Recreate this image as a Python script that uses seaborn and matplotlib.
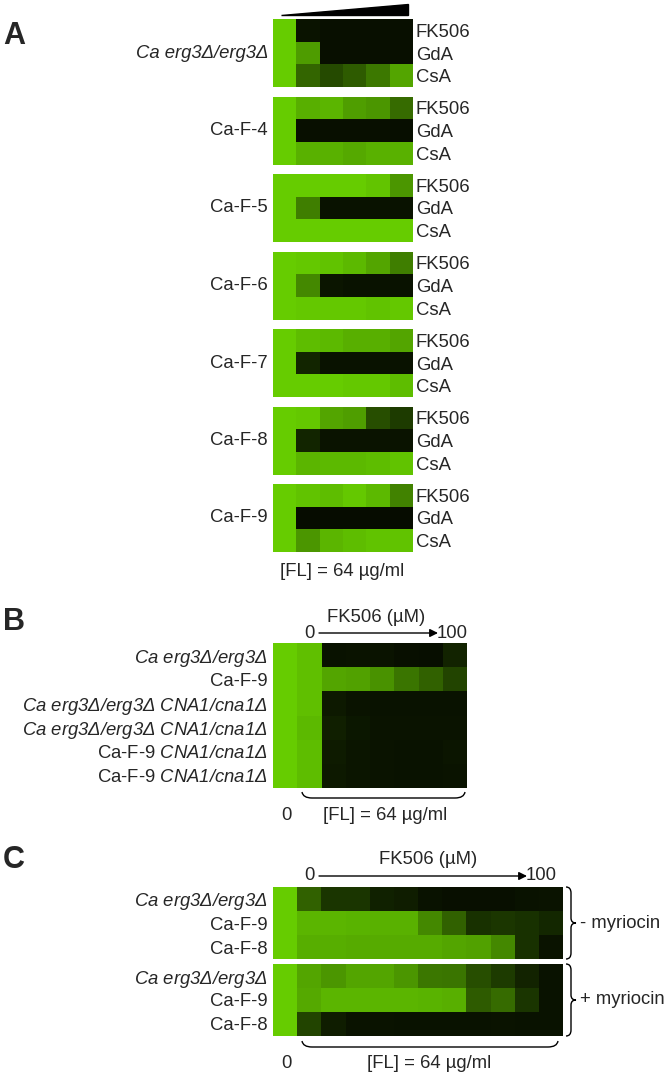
import numpy as np
import pandas as pd
import matplotlib
matplotlib.use("Agg")
import matplotlib.pyplot as plt
import seaborn as sns
from matplotlib.colors import LinearSegmentedColormap
from matplotlib.patches import Polygon, PathPatch
from matplotlib.path import Path

# -----------------------
# Data (relative growth, 0 = no growth, 1 = full growth)
# -----------------------

a_drugs = ["FK506", "GdA", "CsA"]
a_strains = ["Ca erg3Δ/erg3Δ", "Ca-F-4", "Ca-F-5", "Ca-F-6",
             "Ca-F-7", "Ca-F-8", "Ca-F-9"]

a_erg3 = [[1, 0.05, 0.03, 0.03, 0.03, 0.03],
          [1, 0.75, 0.03, 0.03, 0.03, 0.03],
          [1, 0.47, 0.33, 0.42, 0.57, 0.80]]
a_f4 = [[1, 0.85, 0.88, 0.76, 0.72, 0.50],
        [1, 0.03, 0.03, 0.03, 0.03, 0.02],
        [1, 0.86, 0.86, 0.82, 0.86, 0.86]]
a_f5 = [[1, 1.00, 1.00, 1.00, 0.96, 0.72],
        [1, 0.60, 0.04, 0.04, 0.04, 0.04],
        [1, 1.00, 1.00, 1.00, 1.00, 1.00]]
a_f6 = [[1, 0.98, 0.95, 0.90, 0.80, 0.60],
        [1, 0.65, 0.06, 0.04, 0.04, 0.04],
        [1, 0.98, 0.98, 0.98, 0.95, 0.98]]
a_f7 = [[1, 0.92, 0.90, 0.85, 0.85, 0.80],
        [1, 0.14, 0.04, 0.04, 0.04, 0.04],
        [1, 1.00, 1.00, 0.98, 0.98, 0.92]]
a_f8 = [[1, 0.98, 0.80, 0.76, 0.35, 0.25],
        [1, 0.14, 0.05, 0.05, 0.05, 0.05],
        [1, 0.88, 0.90, 0.90, 0.92, 0.95]]
a_f9 = [[1, 0.95, 0.92, 0.98, 0.90, 0.62],
        [1, 0.01, 0.01, 0.01, 0.01, 0.01],
        [1, 0.72, 0.88, 0.92, 0.95, 0.95]]
a_blocks = [a_erg3, a_f4, a_f5, a_f6, a_f7, a_f8, a_f9]

b_labels = [r"$Ca\ erg3Δ/erg3Δ$",
            "Ca-F-9",
            r"$Ca\ erg3Δ/erg3Δ\ CNA1/cna1Δ$",
            r"$Ca\ erg3Δ/erg3Δ\ CNA1/cna1Δ$",
            r"Ca-F-9 $CNA1/cna1Δ$",
            r"Ca-F-9 $CNA1/cna1Δ$"]
b_values = [[1, 0.93, 0.04, 0.05, 0.05, 0.03, 0.02, 0.13],
            [1, 0.93, 0.80, 0.78, 0.70, 0.55, 0.45, 0.30],
            [1, 0.93, 0.08, 0.05, 0.04, 0.04, 0.04, 0.04],
            [1, 0.90, 0.11, 0.07, 0.05, 0.05, 0.05, 0.05],
            [1, 0.92, 0.09, 0.06, 0.05, 0.04, 0.04, 0.06],
            [1, 0.92, 0.08, 0.06, 0.05, 0.04, 0.04, 0.05]]

c_labels = [r"$Ca\ erg3Δ/erg3Δ$", "Ca-F-9", "Ca-F-8"]
c_minus = [[1, 0.45, 0.22, 0.22, 0.12, 0.10, 0.04, 0.03, 0.03, 0.03, 0.04, 0.05],
           [1, 0.88, 0.88, 0.87, 0.86, 0.86, 0.65, 0.45, 0.20, 0.23, 0.20, 0.15],
           [1, 0.84, 0.84, 0.83, 0.83, 0.83, 0.83, 0.80, 0.78, 0.65, 0.20, 0.05]]
c_plus = [[1, 0.80, 0.72, 0.80, 0.80, 0.72, 0.56, 0.55, 0.35, 0.25, 0.13, 0.04],
          [1, 0.82, 0.88, 0.88, 0.88, 0.88, 0.87, 0.85, 0.42, 0.50, 0.22, 0.04],
          [1, 0.30, 0.10, 0.05, 0.05, 0.04, 0.04, 0.04, 0.04, 0.05, 0.04, 0.04]]
c_groups = ["- myriocin", "+ myriocin"]

# -----------------------
# Style
# -----------------------

sns.set_style("white")
plt.rcParams["font.family"] = ["Liberation Sans", "DejaVu Sans"]
# math segments are only used for the italic gene names
plt.rcParams["mathtext.fontset"] = "custom"
plt.rcParams["mathtext.rm"] = "Liberation Sans:italic"
plt.rcParams["mathtext.it"] = "Liberation Sans:italic"

FS = 13.3
W, H = 670, 1078
cmap = LinearSegmentedColormap.from_list(
    "growth", [(5 / 255, 10 / 255, 0), (102 / 255, 204 / 255, 0)]
)

fig = plt.figure(figsize=(W / 100, H / 100), dpi=100)

over = fig.add_axes([0, 0, 1, 1])
over.set_xlim(0, W)
over.set_ylim(H, 0)
over.axis("off")


def px_axes(x0, y0, x1, y1):
    return fig.add_axes([x0 / W, 1 - y1 / H, (x1 - x0) / W, (y1 - y0) / H])


def draw_heat(ax, values):
    sns.heatmap(
        pd.DataFrame(values),
        ax=ax,
        cmap=cmap,
        vmin=0,
        vmax=1,
        cbar=False,
        linewidths=0,
        xticklabels=False,
        yticklabels=False
    )
    ax.set_xlabel("")
    ax.set_ylabel("")
    ax.tick_params(length=0)


def draw_path(verts, codes):
    over.add_patch(PathPatch(Path(verts, codes), fill=False,
                             lw=1, edgecolor="black"))


# -----------------------
# Panel A
# -----------------------

over.text(3, 36, "A", fontsize=22, fontweight="bold", va="center")
over.add_patch(Polygon([(281, 14.5), (408, 14.5), (408, 4)],
                       closed=True, color="black"))

for i, block in enumerate(a_blocks):
    top = 19 + 77.5 * i
    ax = px_axes(273, top, 413, top + 68)
    draw_heat(ax, block)
    ax.yaxis.tick_right()
    ax.set_yticks(np.arange(3) + 0.5)
    ax.set_yticklabels(a_drugs, fontsize=FS, rotation=0)
    ax.tick_params(axis="y", pad=2)
    over.text(268, top + 34, a_strains[i], fontsize=FS, ha="right",
              va="center", style="italic" if i == 0 else "normal")

over.text(342, 572, "[FL] = 64 µg/ml", fontsize=FS, ha="center", va="center")

# -----------------------
# Panel B
# -----------------------

over.text(3, 622, "B", fontsize=22, fontweight="bold", va="center")
over.text(376, 617, "FK506 (µM)", fontsize=FS, ha="center", va="center")
over.text(309, 633, "0", fontsize=FS, ha="center", va="center")
over.text(437, 633, "100", fontsize=FS, ha="left", va="center")
over.annotate("", xy=(438, 633), xytext=(319, 633),
              arrowprops=dict(arrowstyle="-|>", color="black", lw=1,
                              mutation_scale=12, shrinkA=0, shrinkB=0))

ax_b = px_axes(273, 643, 467, 788)
draw_heat(ax_b, b_values)
ax_b.set_yticks(np.arange(len(b_labels)) + 0.5)
ax_b.set_yticklabels(b_labels, fontsize=FS, rotation=0)
ax_b.tick_params(axis="y", pad=4)

draw_path([(302, 792), (303, 798), (312, 798), (455, 798), (464, 798),
           (465, 792)],
          [Path.MOVETO, Path.CURVE3, Path.CURVE3, Path.LINETO, Path.CURVE3,
           Path.CURVE3])
over.text(286, 815, "0", fontsize=FS, ha="center", va="center")
over.text(385, 815, "[FL] = 64 µg/ml", fontsize=FS, ha="center", va="center")

# -----------------------
# Panel C
# -----------------------

over.text(3, 860, "C", fontsize=22, fontweight="bold", va="center")
over.text(428, 860, "FK506 (µM)", fontsize=FS, ha="center", va="center")
over.text(309, 876, "0", fontsize=FS, ha="center", va="center")
over.text(526, 876, "100", fontsize=FS, ha="left", va="center")
over.annotate("", xy=(527, 876), xytext=(319, 876),
              arrowprops=dict(arrowstyle="-|>", color="black", lw=1,
                              mutation_scale=12, shrinkA=0, shrinkB=0))

for j, (vals, top) in enumerate([(c_minus, 887), (c_plus, 964)]):
    ax = px_axes(273, top, 563, top + 72)
    draw_heat(ax, vals)
    ax.set_yticks(np.arange(3) + 0.5)
    ax.set_yticklabels(c_labels, fontsize=FS, rotation=0)
    ax.tick_params(axis="y", pad=4)
    mid = top + 36
    bot = top + 72
    draw_path([(566, top), (571, top), (571, top + 6), (571, mid - 5),
               (571, mid), (576, mid), (571, mid), (571, mid + 5),
               (571, bot - 6), (571, bot), (566, bot)],
              [Path.MOVETO, Path.CURVE3, Path.CURVE3, Path.LINETO,
               Path.CURVE3, Path.CURVE3, Path.CURVE3, Path.CURVE3,
               Path.LINETO, Path.CURVE3, Path.CURVE3])
    over.text(580, mid, c_groups[j], fontsize=FS, ha="left", va="center")

draw_path([(302, 1041), (303, 1047), (312, 1047), (548, 1047), (557, 1047),
           (558, 1041)],
          [Path.MOVETO, Path.CURVE3, Path.CURVE3, Path.LINETO, Path.CURVE3,
           Path.CURVE3])
over.text(286, 1063, "0", fontsize=FS, ha="center", va="center")
over.text(429, 1063, "[FL] = 64 µg/ml", fontsize=FS, ha="center", va="center")

fig.savefig("out.png", dpi=100)
plt.close(fig)
